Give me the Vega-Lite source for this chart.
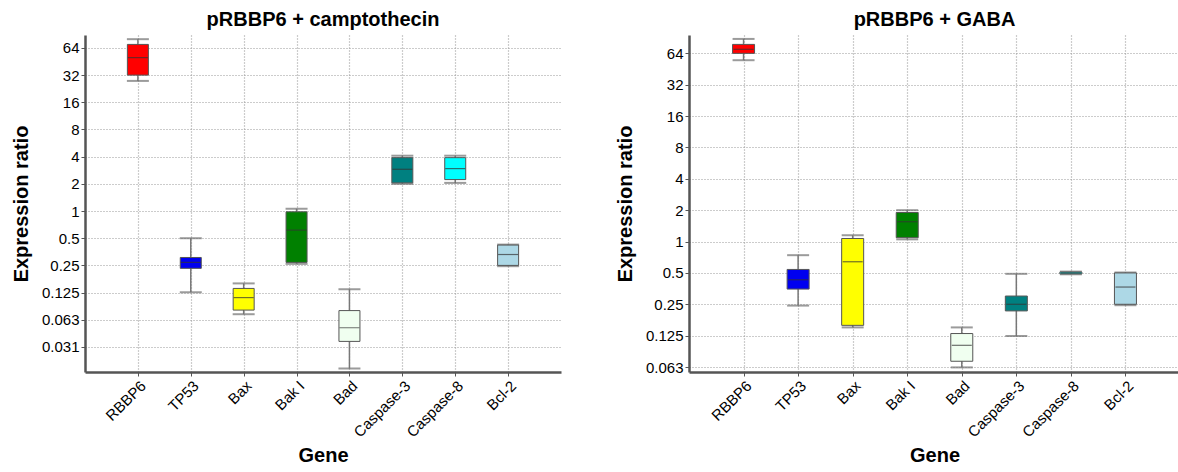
{
  "$schema": "https://vega.github.io/schema/vega-lite/v6.json",
  "background": "white",
  "padding": {"left": 11, "top": 10, "right": 0, "bottom": 0},
  "config": {
    "font": "Liberation Sans",
    "view": {"stroke": null},
    "concat": {"spacing": 54},
    "axis": {
      "labelFont": "Liberation Sans", "labelFontSize": 15, "labelColor": "#000",
      "titleFont": "Liberation Sans", "titleFontSize": 20, "titleFontWeight": "bold", "titleColor": "#000",
      "domainColor": "#555", "domainWidth": 2.5,
      "gridColor": "#999", "gridDash": [1, 2], "gridWidth": 1.2,
      "tickColor": "#555", "tickSize": 4, "labelPadding": 2
    },
    "title": {"font": "Liberation Sans", "fontSize": 20, "fontWeight": "bold", "color": "#000", "offset": 5}
  },
  "datasets": {
    "boxes": [
      {"panel": "camptothecin", "gene": "RBBP6", "lo": 27.6, "q1": 32, "med": 50, "q3": 70, "hi": 80},
      {"panel": "camptothecin", "gene": "TP53", "lo": 0.126, "q1": 0.232, "med": 0.27, "q3": 0.306, "hi": 0.5},
      {"panel": "camptothecin", "gene": "Bax", "lo": 0.072, "q1": 0.08, "med": 0.11, "q3": 0.139, "hi": 0.158},
      {"panel": "camptothecin", "gene": "Bak I", "lo": 0.26, "q1": 0.27, "med": 0.615, "q3": 0.98, "hi": 1.06},
      {"panel": "camptothecin", "gene": "Bad", "lo": 0.018, "q1": 0.036, "med": 0.051, "q3": 0.079, "hi": 0.136},
      {"panel": "camptothecin", "gene": "Caspase-3", "lo": 2.0, "q1": 2.05, "med": 2.9, "q3": 3.9, "hi": 4.1},
      {"panel": "camptothecin", "gene": "Caspase-8", "lo": 2.05, "q1": 2.23, "med": 2.95, "q3": 3.9, "hi": 4.1},
      {"panel": "camptothecin", "gene": "Bcl-2", "lo": 0.245, "q1": 0.25, "med": 0.33, "q3": 0.42, "hi": 0.425},
      {"panel": "GABA", "gene": "RBBP6", "lo": 55, "q1": 64, "med": 70, "q3": 78, "hi": 88},
      {"panel": "GABA", "gene": "TP53", "lo": 0.243, "q1": 0.35, "med": 0.43, "q3": 0.54, "hi": 0.74},
      {"panel": "GABA", "gene": "Bax", "lo": 0.15, "q1": 0.157, "med": 0.64, "q3": 1.07, "hi": 1.15},
      {"panel": "GABA", "gene": "Bak I", "lo": 1.05, "q1": 1.09, "med": 1.55, "q3": 1.9, "hi": 2.0},
      {"panel": "GABA", "gene": "Bad", "lo": 0.062, "q1": 0.071, "med": 0.101, "q3": 0.131, "hi": 0.15},
      {"panel": "GABA", "gene": "Caspase-3", "lo": 0.124, "q1": 0.216, "med": 0.25, "q3": 0.3, "hi": 0.49},
      {"panel": "GABA", "gene": "Caspase-8", "lo": 0.485, "q1": 0.49, "med": 0.5, "q3": 0.51, "hi": 0.515},
      {"panel": "GABA", "gene": "Bcl-2", "lo": 0.245, "q1": 0.25, "med": 0.366, "q3": 0.5, "hi": 0.505}
    ]
  },
  "hconcat": [
    {
      "title": "pRBBP6 + camptothecin",
      "width": 476, "height": 337,
      "data": {"name": "boxes"},
      "transform": [{"filter": "datum.panel == 'camptothecin'"}],
      "encoding": {
        "x": {"field": "gene", "type": "nominal",
          "sort": ["RBBP6", "TP53", "Bax", "Bak I", "Bad", "Caspase-3", "Caspase-8", "Bcl-2"],
          "scale": {"type": "point", "padding": 1},
          "axis": {"title": "Gene", "labelAngle": -45, "grid": true, "titlePadding": 6}}
      },
      "layer": [
        {"mark": {"type": "rule", "color": "#777", "strokeWidth": 1.5},
         "encoding": {
           "y": {"field": "lo", "type": "quantitative", "title": "Expression ratio",
             "scale": {"type": "log", "base": 2, "domain": [0.0165, 89], "nice": false},
             "axis": {"values": [0.03125, 0.0625, 0.125, 0.25, 0.5, 1, 2, 4, 8, 16, 32, 64],
               "labelExpr": "datum.value < 0.1 ? format(datum.value, '.2r') : format(datum.value, '~g')",
               "grid": true, "titlePadding": 9.5}},
           "y2": {"field": "hi"}}},
        {"mark": {"type": "tick", "color": "#707070", "thickness": 2, "size": 22},
         "encoding": {"y": {"field": "lo", "type": "quantitative", "title": "Expression ratio"}}},
        {"mark": {"type": "tick", "color": "#707070", "thickness": 2, "size": 22},
         "encoding": {"y": {"field": "hi", "type": "quantitative", "title": "Expression ratio"}}},
        {"mark": {"type": "bar", "size": 21, "stroke": "#555", "strokeWidth": 1},
         "encoding": {
           "y": {"field": "q1", "type": "quantitative", "title": "Expression ratio"},
           "y2": {"field": "q3"},
           "color": {"field": "gene", "type": "nominal", "legend": null,
             "scale": {"domain": ["RBBP6", "TP53", "Bax", "Bak I", "Bad", "Caspase-3", "Caspase-8", "Bcl-2"],
               "range": ["#ff0000", "#0000f0", "#ffff00", "#008000", "#f0fff0", "#008080", "#00ffff", "#add8e6"]}}}},
        {"mark": {"type": "tick", "color": "#333", "thickness": 1.2, "size": 20, "strokeDash": [2, 1]},
         "encoding": {"y": {"field": "med", "type": "quantitative", "title": "Expression ratio"}}}
      ]
    },
    {
      "title": "pRBBP6 + GABA",
      "width": 491, "height": 337,
      "data": {"name": "boxes"},
      "transform": [{"filter": "datum.panel == 'GABA'"}],
      "encoding": {
        "x": {"field": "gene", "type": "nominal",
          "sort": ["RBBP6", "TP53", "Bax", "Bak I", "Bad", "Caspase-3", "Caspase-8", "Bcl-2"],
          "scale": {"type": "point", "padding": 1},
          "axis": {"title": "Gene", "labelAngle": -45, "grid": true, "titlePadding": 6}}
      },
      "layer": [
        {"mark": {"type": "rule", "color": "#777", "strokeWidth": 1.5},
         "encoding": {
           "y": {"field": "lo", "type": "quantitative", "title": "Expression ratio",
             "scale": {"type": "log", "base": 2, "domain": [0.056, 96], "nice": false},
             "axis": {"values": [0.0625, 0.125, 0.25, 0.5, 1, 2, 4, 8, 16, 32, 64],
               "labelExpr": "datum.value < 0.1 ? format(datum.value, '.2r') : format(datum.value, '~g')",
               "grid": true, "titlePadding": 9.5}},
           "y2": {"field": "hi"}}},
        {"mark": {"type": "tick", "color": "#707070", "thickness": 2, "size": 22},
         "encoding": {"y": {"field": "lo", "type": "quantitative", "title": "Expression ratio"}}},
        {"mark": {"type": "tick", "color": "#707070", "thickness": 2, "size": 22},
         "encoding": {"y": {"field": "hi", "type": "quantitative", "title": "Expression ratio"}}},
        {"mark": {"type": "bar", "size": 22, "stroke": "#555", "strokeWidth": 1},
         "encoding": {
           "y": {"field": "q1", "type": "quantitative", "title": "Expression ratio"},
           "y2": {"field": "q3"},
           "color": {"field": "gene", "type": "nominal", "legend": null,
             "scale": {"domain": ["RBBP6", "TP53", "Bax", "Bak I", "Bad", "Caspase-3", "Caspase-8", "Bcl-2"],
               "range": ["#ff0000", "#0000f0", "#ffff00", "#008000", "#f0fff0", "#008080", "#00ffff", "#add8e6"]}}}},
        {"mark": {"type": "tick", "color": "#333", "thickness": 1.2, "size": 20, "strokeDash": [2, 1]},
         "encoding": {"y": {"field": "med", "type": "quantitative", "title": "Expression ratio"}}}
      ]
    }
  ],
  "resolve": {"scale": {"y": "independent", "x": "independent", "color": "shared"}}
}
